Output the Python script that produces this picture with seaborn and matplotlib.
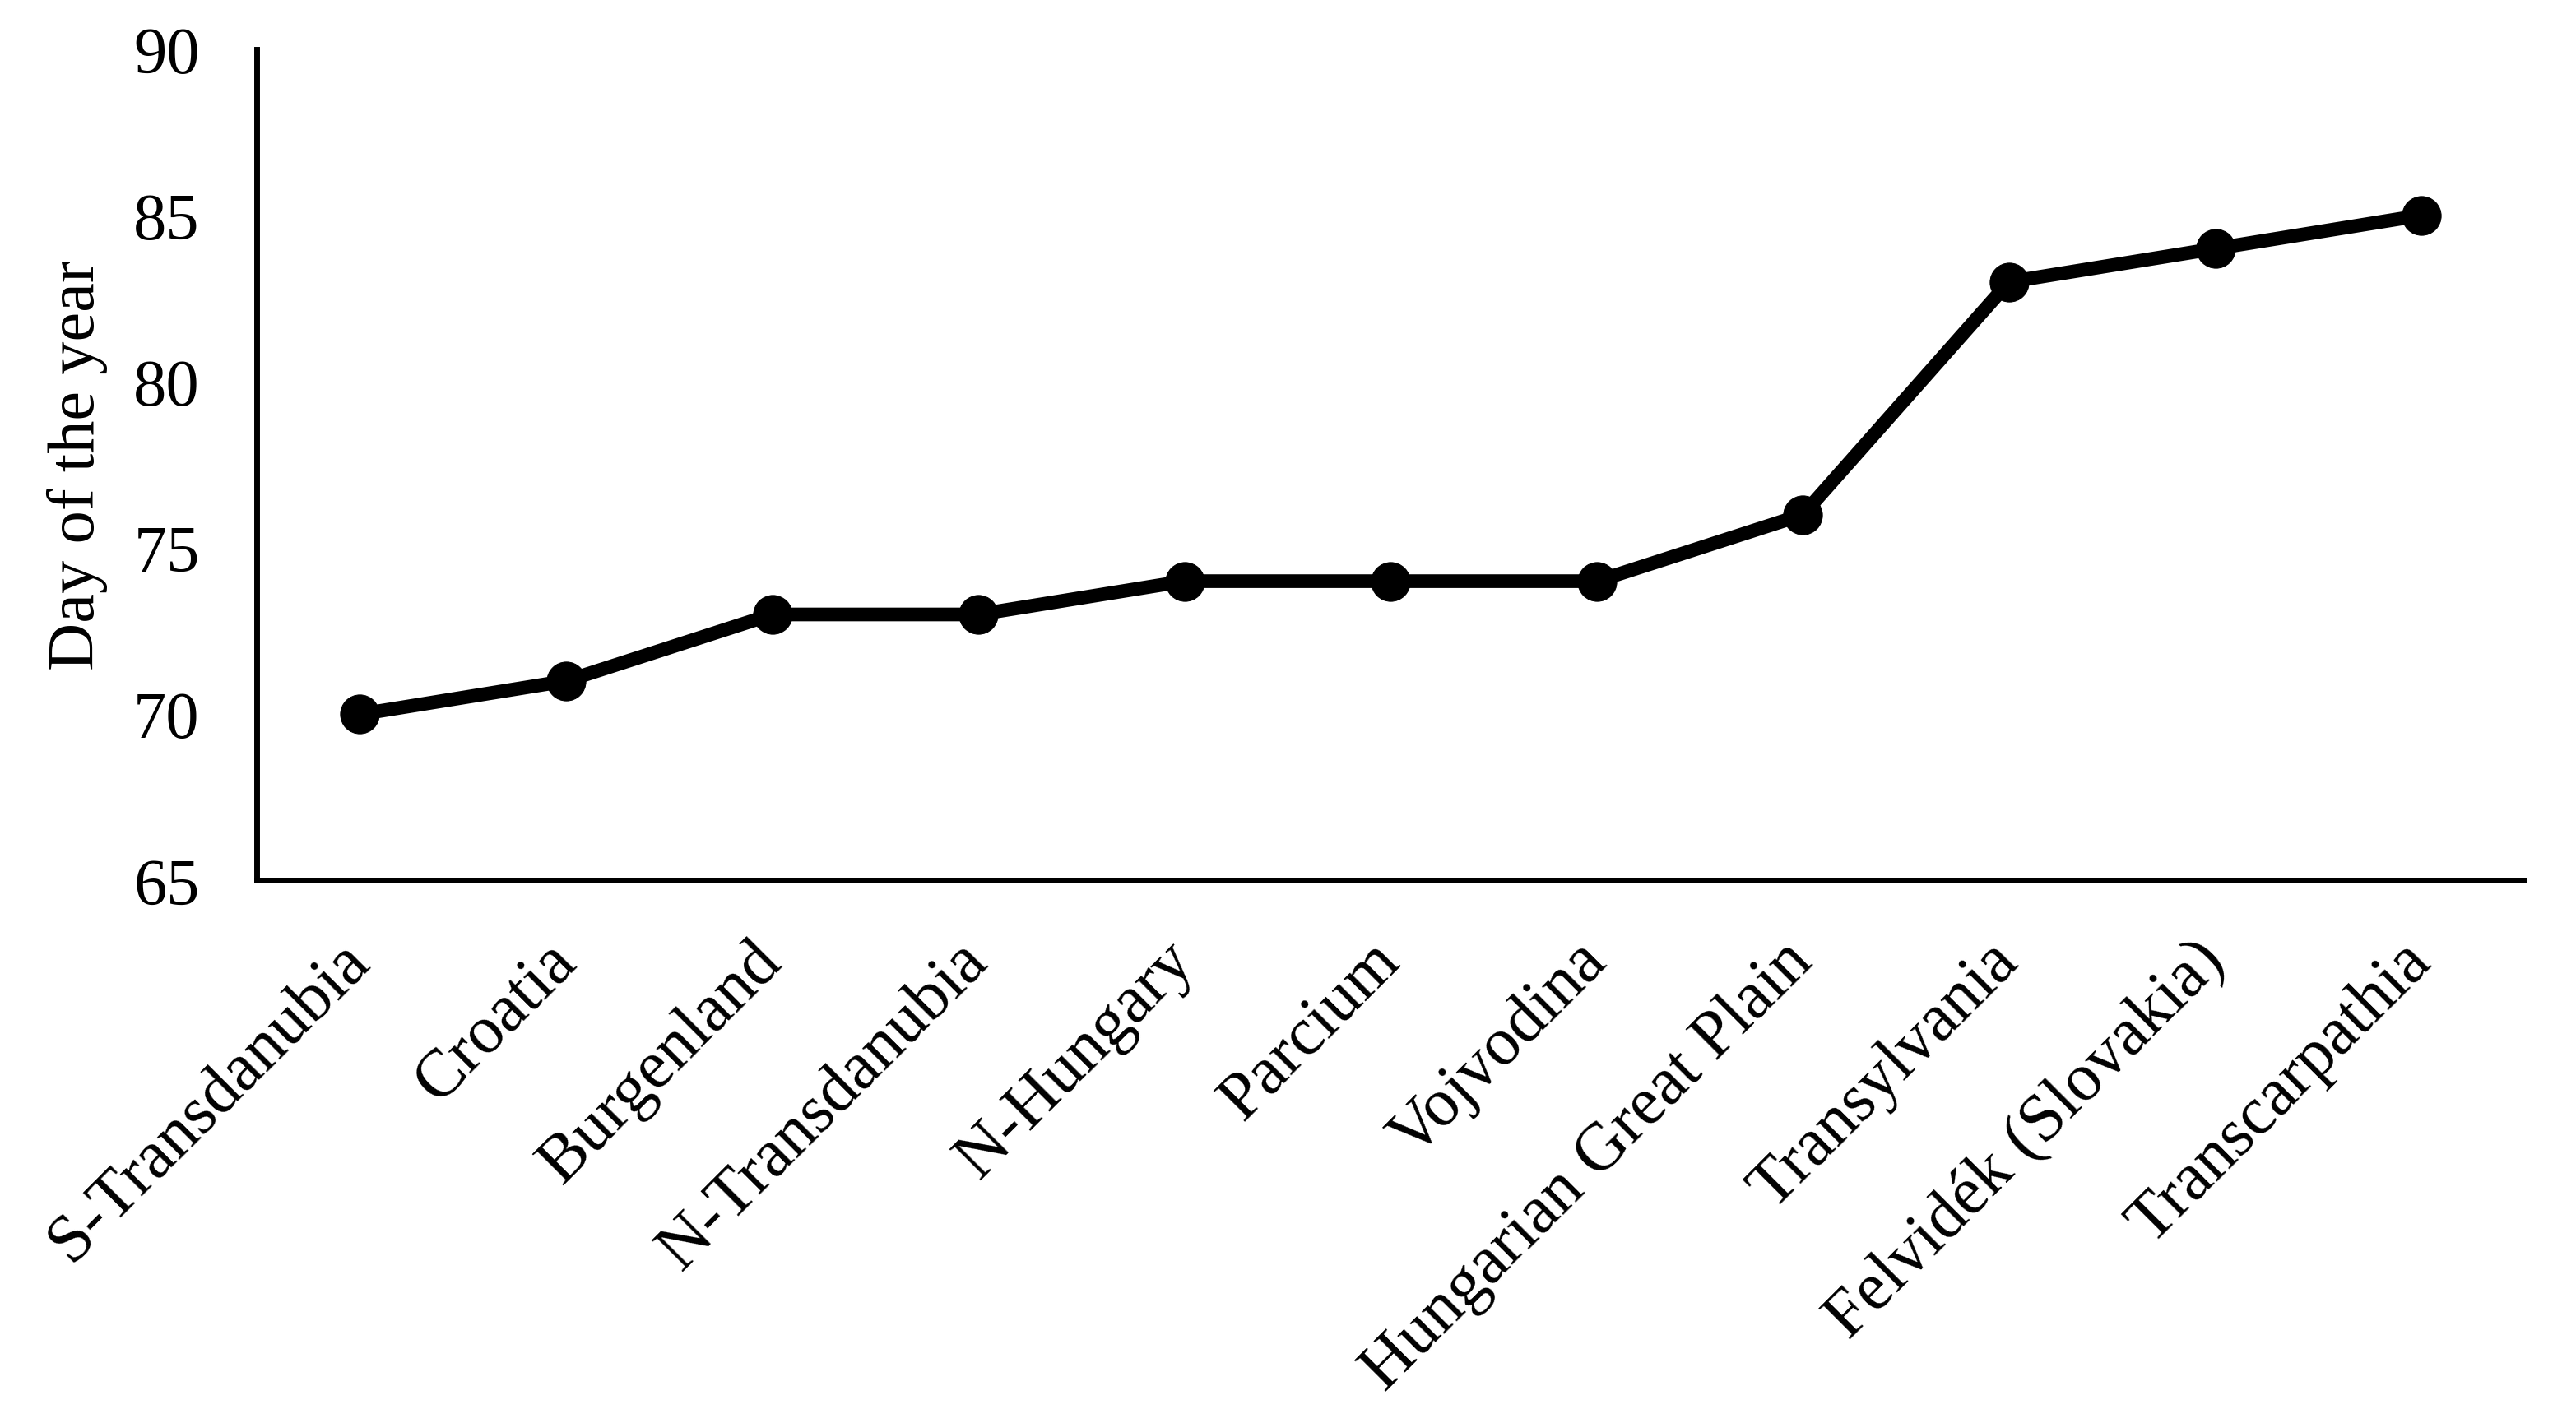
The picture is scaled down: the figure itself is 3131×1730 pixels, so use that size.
import matplotlib
matplotlib.use("Agg")
import matplotlib.pyplot as plt
import seaborn as sns
import pandas as pd

regions = ['S-Transdanubia', 'Croatia', 'Burgenland', 'N-Transdanubia', 'N-Hungary',
           'Parcium', 'Vojvodina', 'Hungarian Great Plain', 'Transylvania',
           'Felvidék (Slovakia)', 'Transcarpathia']
day_of_year = [70, 71, 73, 73, 74, 74, 74, 76, 83, 84, 85]
y_ticks = [65, 70, 75, 80, 85, 90]

df = pd.DataFrame({'region': regions, 'day': day_of_year})

sns.set_style('white')
plt.rcParams['font.family'] = ['Liberation Serif', 'DejaVu Serif']
plt.rcParams['text.color'] = 'black'
plt.rcParams['xtick.color'] = 'black'
plt.rcParams['ytick.color'] = 'black'
plt.rcParams['axes.labelcolor'] = 'black'

fig = plt.figure(figsize=(31.31, 17.31), dpi=100)
ax = fig.add_axes([0.0997, 0.381, 0.8803, 0.584])

sns.lineplot(data=df, x='region', y='day', sort=False, ax=ax,
             color='black', linewidth=12, marker='o', markersize=34,
             markeredgecolor='black', markerfacecolor='black')

ax.set_xlim(-0.5, len(regions) - 0.5)
ax.set_ylim(65, 90)
ax.set_yticks(y_ticks)
ax.set_ylabel('Day of the year', fontsize=58, labelpad=22, color='black')
ax.set_xlabel('')

ax.tick_params(axis='y', length=0, pad=50, labelsize=58, labelcolor='black')
ax.tick_params(axis='x', length=0, pad=62, labelsize=59, labelcolor='black')
for lab in ax.get_xticklabels():
    lab.set_rotation(45)
    lab.set_ha('right')
    lab.set_va('center')
    lab.set_rotation_mode('anchor')

for side in ['top', 'right']:
    ax.spines[side].set_visible(False)
for side in ['left', 'bottom']:
    ax.spines[side].set_linewidth(5)
    ax.spines[side].set_color('black')

fig.savefig('out.png', dpi=100)
